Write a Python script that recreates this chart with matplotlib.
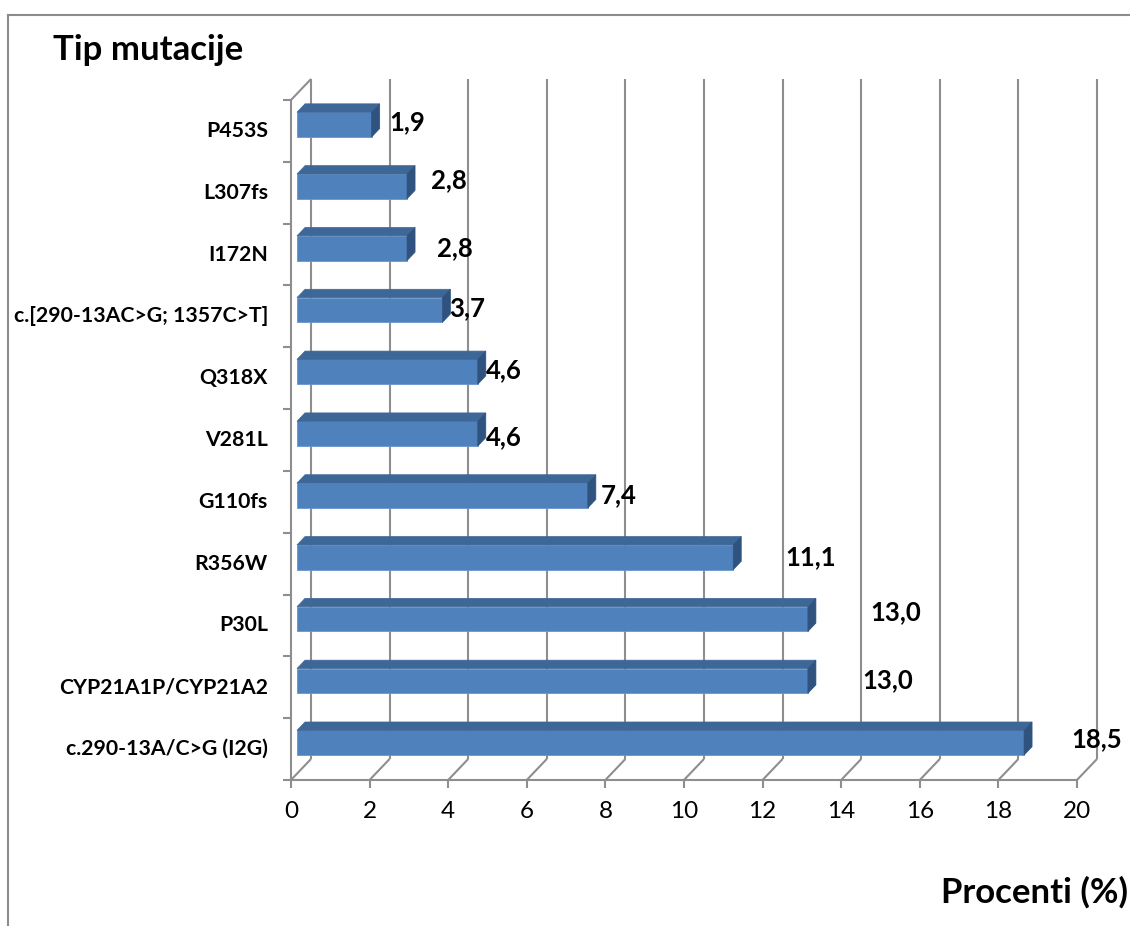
import matplotlib
matplotlib.use('Agg')
import matplotlib.pyplot as plt
from matplotlib.patches import Polygon, Rectangle
from matplotlib.lines import Line2D

plt.rcParams['font.family'] = ['Lato', 'DejaVu Sans']

# mutations listed bottom to top, as drawn
mutations = ['c.290-13A/C>G (I2G)', 'CYP21A1P/CYP21A2', 'P30L', 'R356W', 'G110fs',
             'V281L', 'Q318X', 'c.[290-13AC>G; 1357C>T]', 'I172N', 'L307fs', 'P453S']
percent = [18.5, 13.0, 13.0, 11.1, 7.4, 4.6, 4.6, 3.7, 2.8, 2.8, 1.9]
xticks = list(range(0, 21, 2))

# where each value label sits relative to the bar end (pixels)
label_dx = [47, 54, 62, 52, 13, 8, 8, 7, 30, 24, 18]
label_dy = [4, 1, 7, 0, 0, -3, 2, 2, 0, 6, 2]

fig = plt.figure(figsize=(11.3, 9.26), dpi=100)
ax = fig.add_axes([270 / 1130, 1 - 800 / 926, 840 / 1130, 740 / 926])
ax.set_xlim(-0.534, 20.84)
ax.set_ylim(-0.824, 11.147)
ax.axis('off')

# depth of the 3d box in data units
DX, DY = 0.51, 0.34
grid_kw = dict(color='#8E8E8E', lw=1.5, solid_capstyle='butt', zorder=1)
n = len(mutations)
y_lo, y_hi = -0.5, n - 0.5

for t in xticks:
    ax.plot([t + DX] * 2, [y_lo + DY, y_hi + DY], **grid_kw)
    ax.plot([t, t + DX], [y_lo, y_lo + DY], **grid_kw)
    ax.plot([t, t], [y_lo, y_lo - 0.13], **grid_kw)
    ax.annotate(str(t), (t, y_lo), xytext=(0, -32), textcoords='offset pixels',
                ha='center', va='center', fontsize=17.5)
ax.plot([0, 20], [y_lo, y_lo], **grid_kw)
ax.plot([0, 0], [y_lo, y_hi], **grid_kw)
ax.plot([0, DX], [y_hi, y_hi + DY], **grid_kw)
for k in range(n + 1):
    ax.plot([-0.2, 0], [k - 0.5] * 2, **grid_kw)

# bars: front face, top face, side face
fx = 0.3 * DX
fy = 0.3 * DY
bdx, bdy = 0.4 * DX, 0.4 * DY
h = 0.2
for i, (name, v) in enumerate(zip(mutations, percent)):
    yc = i + fy
    ax.add_patch(Rectangle((fx, yc - h), v, 2 * h, facecolor='#4F81BD',
                           edgecolor='#6A96CC', lw=0.6, zorder=3))
    ax.add_patch(Polygon([(fx, yc + h), (fx + v, yc + h), (fx + v + bdx, yc + h + bdy),
                          (fx + bdx, yc + h + bdy)], closed=True,
                         facecolor='#3D6796', edgecolor='#3D6796', lw=0.5, zorder=3))
    ax.add_patch(Polygon([(fx + v, yc - h), (fx + v + bdx, yc - h + bdy),
                          (fx + v + bdx, yc + h + bdy), (fx + v, yc + h)], closed=True,
                         facecolor='#2F527F', edgecolor='#2F527F', lw=0.5, zorder=3))
    ax.annotate(f'{v:.1f}'.replace('.', ','), (fx + v, yc),
                xytext=(label_dx[i], label_dy[i]), textcoords='offset pixels',
                ha='left', va='center', fontsize=18.5, fontweight='bold', zorder=4)
    ax.annotate(name, (0, i), xytext=(-23, 0), textcoords='offset pixels',
                ha='right', va='center', fontsize=15.3, fontweight='bold')

# outer chart frame
fig.add_artist(Line2D([8 / 1130, 8 / 1130], [0, 1 - 15 / 926], transform=fig.transFigure,
                      color='#8C8C8C', lw=1.5))
fig.add_artist(Line2D([8 / 1130, 1], [1 - 15 / 926] * 2, transform=fig.transFigure,
                      color='#8C8C8C', lw=1.5))

fig.text(53 / 1130, 1 - 60 / 926, 'Tip mutacije', fontsize=25, fontweight='bold',
         va='baseline')
fig.text(1128 / 1130, 1 - 903 / 926, 'Procenti (%)', fontsize=25, fontweight='bold',
         ha='right', va='baseline')

fig.savefig('out.png', dpi=100)
